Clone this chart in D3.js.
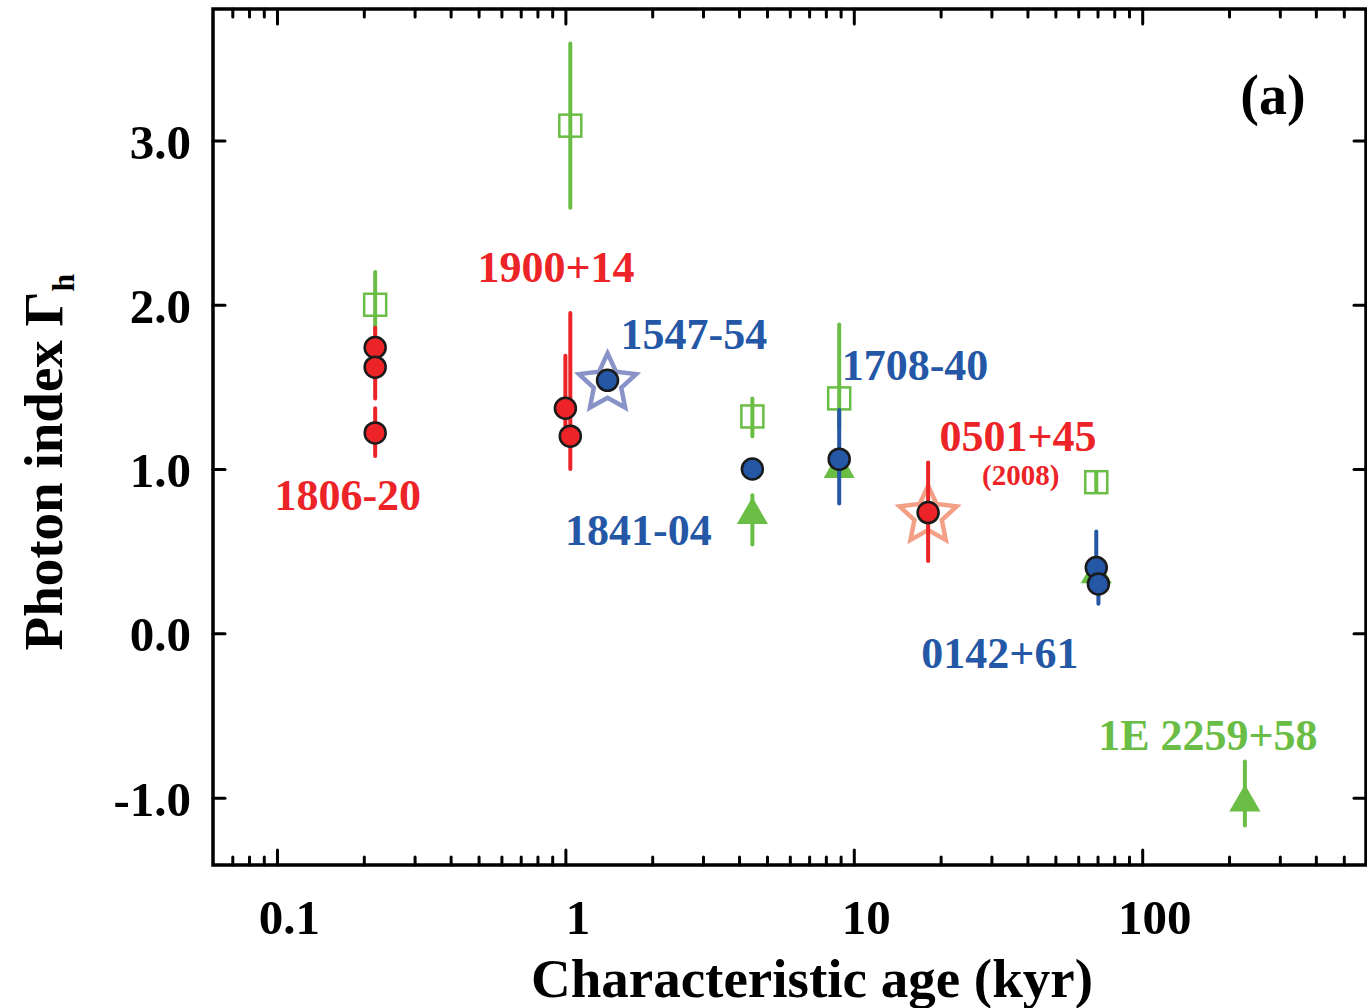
<!DOCTYPE html>
<html>
<head>
<meta charset="utf-8">
<script src="https://cdn.jsdelivr.net/npm/d3@7"></script>
<style>
  body { margin: 0; background: #fff; }
  text { font-family: "Liberation Serif", "DejaVu Serif", serif; font-weight: bold; }
</style>
</head>
<body>
<div id="chart"></div>
<script>
// photon index vs characteristic age

const redAge   = [0.219, 0.219, 0.219, 1.0, 1.04, 18.1];
const redGamma = [1.74, 1.62, 1.22, 1.37, 1.20, 0.735];
const redLo    = [1.62, 1.43, 1.08, 1.15, 1.00, 0.44];
const redHi    = [1.86, 1.74, 1.37, 1.69, 1.95, 1.04];

const blueAge   = [1.40, 4.45, 8.9, 69.3, 70.5];
const blueGamma = [1.54, 1.00, 1.06, 0.40, 0.30];
const blueLo    = [null, null, 0.79, 0.30, 0.18];
const blueHi    = [null, null, 1.36, 0.62, 0.40];

const sqAge   = [0.219, 1.04, 4.45, 8.9, 69.3];
const sqGamma = [2.00, 3.09, 1.32, 1.43, 0.92];
const sqLo    = [1.85, 2.59, 1.20, 1.25, 0.86];
const sqHi    = [2.20, 3.59, 1.43, 1.88, 0.98];

const triAge   = [4.45, 8.9, 69.3, 227];
const triGamma = [0.72, 1.00, 0.36, -1.03];
const triLo    = [0.54, null, null, -1.17];
const triHi    = [0.84, null, null, -0.78];

const starAge   = [1.40, 18.1];
const starGamma = [1.54, 0.735];

const xMajor = [0.1, 1, 10, 100];
const xMajorLabels = ["0.1", "1", "10", "100"];
const yMajor = [-1, 0, 1, 2, 3];
const yMajorLabels = ["-1.0", "0.0", "1.0", "2.0", "3.0"];

const labels = [
  { t: "1806-20", age: 0.176, g: 0.846, c: "red", s: 44 },
  { t: "1900+14", age: 0.928, g: 2.23, c: "red", s: 44 },
  { t: "1547-54", age: 2.79, g: 1.826, c: "blue", s: 44 },
  { t: "1708-40", age: 16.3, g: 1.637, c: "blue", s: 44 },
  { t: "0501+45", age: 37.1, g: 1.205, c: "red", s: 44 },
  { t: "(2008)", age: 37.9, g: 0.962, c: "red", s: 29 },
  { t: "1841-04", age: 1.79, g: 0.633, c: "blue", s: 44 },
  { t: "0142+61", age: 32.1, g: -0.116, c: "blue", s: 44 },
  { t: "1E 2259+58", age: 169, g: -0.615, c: "green", s: 44 }
];

const col = { red: "#ec2327", blue: "#2457a5", green: "#6abd45" };

const W = 1367, H = 1008;
const L = 213, R = 1366, T = 9, B = 865;

const x = d3.scaleLog().domain([0.06, 597]).range([L, R]);
const y = d3.scaleLinear().domain([-1.41, 3.80]).range([B, T]);

const svg = d3.select("#chart").append("svg")
  .attr("width", W).attr("height", H);

// minor x ticks
let xMinor = [];
for (let d = 0.01; d < 1000; d *= 10) {
  for (let k = 2; k <= 9; k++) {
    const v = d * k;
    if (v > 0.06 && v < 597) xMinor.push(v);
  }
}

function styleAxis(g) {
  g.select(".domain").remove();
  g.selectAll(".tick line").attr("stroke", "#000").attr("stroke-width", 3).attr("stroke-linecap", "round");
}

// bottom axis
svg.append("g").attr("transform", `translate(0,${B})`)
  .call(d3.axisBottom(x).tickValues(xMinor).tickSize(-8).tickFormat(""))
  .call(styleAxis);
svg.append("g").attr("transform", `translate(0,${B})`)
  .call(d3.axisBottom(x).tickValues(xMajor).tickSize(-15)
    .tickFormat((d, i) => xMajorLabels[i]))
  .call(styleAxis)
  .selectAll("text")
  .attr("fill", "#000")
  .attr("dx", "12")
  .attr("y", 34)
  .attr("dy", "0.71em")
  .style("font-size", "49px");

// top axis
svg.append("g").attr("transform", `translate(0,${T})`)
  .call(d3.axisTop(x).tickValues(xMinor).tickSize(-8).tickFormat(""))
  .call(styleAxis);
svg.append("g").attr("transform", `translate(0,${T})`)
  .call(d3.axisTop(x).tickValues(xMajor).tickSize(-15).tickFormat(""))
  .call(styleAxis);

// left axis
svg.append("g").attr("transform", `translate(${L},0)`)
  .call(d3.axisLeft(y).tickValues(yMajor).tickSize(-12)
    .tickFormat((d, i) => yMajorLabels[i]))
  .call(styleAxis)
  .selectAll("text")
  .attr("fill", "#000")
  .attr("x", -22)
  .attr("dy", "0.36em")
  .style("font-size", "49px");

// right axis
svg.append("g").attr("transform", `translate(${R},0)`)
  .call(d3.axisRight(y).tickValues(yMajor).tickSize(-12).tickFormat(""))
  .call(styleAxis);

// frame
svg.append("rect")
  .attr("x", L).attr("y", T)
  .attr("width", R - L).attr("height", B - T)
  .attr("fill", "none").attr("stroke", "#000").attr("stroke-width", 3.5);

// axis titles
svg.append("text")
  .attr("x", 812).attr("y", 997)
  .attr("text-anchor", "middle")
  .style("font-size", "55px")
  .text("Characteristic age (kyr)");

const yt = svg.append("text")
  .attr("transform", "translate(62,462) rotate(-90)")
  .attr("text-anchor", "middle")
  .style("font-size", "55px");
yt.append("tspan").text("Photon index  Γ");
yt.append("tspan").attr("dy", 12).style("font-size", "32px").text("h");

svg.append("text")
  .attr("x", 1273).attr("y", 114)
  .attr("text-anchor", "middle")
  .style("font-size", "56px")
  .text("(a)");

// stars (fatter than d3.symbolStar)
const starType = {
  draw(ctx, size) {
    const ro = Math.sqrt(size) / 2, ri = ro * 0.48;
    for (let k = 0; k < 10; k++) {
      const r = k % 2 ? ri : ro;
      const a = -Math.PI / 2 + k * Math.PI / 5;
      if (k === 0) ctx.moveTo(r * Math.cos(a), r * Math.sin(a));
      else ctx.lineTo(r * Math.cos(a), r * Math.sin(a));
    }
    ctx.closePath();
  }
};
const star = d3.symbol().type(starType).size(3600);
const starCol = ["#8a93c8", "#f3a087"];
svg.selectAll(".star").data(starAge).enter().append("path")
  .attr("d", star)
  .attr("transform", (d, i) => `translate(${x(d)},${y(starGamma[i]) + 3})`)
  .attr("fill", "none")
  .attr("stroke", (d, i) => starCol[i])
  .attr("stroke-width", 4.5)
  .attr("stroke-linejoin", "miter");

function errBars(ages, lo, hi, color) {
  svg.append("g").selectAll("line")
    .data(ages.map((a, i) => ({ a, lo: lo[i], hi: hi[i] })).filter(d => d.lo !== null))
    .enter().append("line")
    .attr("x1", d => x(d.a)).attr("x2", d => x(d.a))
    .attr("y1", d => y(d.lo)).attr("y2", d => y(d.hi))
    .attr("stroke", color).attr("stroke-width", 4).attr("stroke-linecap", "round");
}

// green open squares
errBars(sqAge, sqLo, sqHi, col.green);
svg.append("g").selectAll("rect")
  .data(sqAge).enter().append("rect")
  .attr("x", d => x(d) - 11)
  .attr("y", (d, i) => y(sqGamma[i]) - 11)
  .attr("width", 22).attr("height", 22)
  .attr("fill", "none").attr("stroke", col.green).attr("stroke-width", 2.5);

// green triangles
errBars(triAge, triLo, triHi, col.green);
const tri = d3.symbol().type(d3.symbolTriangle).size(420);
svg.append("g").selectAll("path")
  .data(triAge).enter().append("path")
  .attr("d", tri)
  .attr("transform", (d, i) => `translate(${x(d)},${y(triGamma[i])})`)
  .attr("fill", col.green);

// blue circles
errBars(blueAge, blueLo, blueHi, col.blue);
svg.append("g").selectAll("circle")
  .data(blueAge).enter().append("circle")
  .attr("cx", d => x(d)).attr("cy", (d, i) => y(blueGamma[i]))
  .attr("r", 10.5)
  .attr("fill", col.blue).attr("stroke", "#1a1a1a").attr("stroke-width", 2.5);

// red circles
errBars(redAge, redLo, redHi, col.red);
svg.append("g").selectAll("circle")
  .data(redAge).enter().append("circle")
  .attr("cx", d => x(d)).attr("cy", (d, i) => y(redGamma[i]))
  .attr("r", 10.5)
  .attr("fill", col.red).attr("stroke", "#1a1a1a").attr("stroke-width", 2.5);

// source labels
svg.append("g").selectAll("text")
  .data(labels).enter().append("text")
  .attr("x", d => x(d.age)).attr("y", d => y(d.g))
  .attr("text-anchor", "middle")
  .attr("dy", "0.35em")
  .attr("fill", d => col[d.c])
  .style("font-size", d => d.s + "px")
  .text(d => d.t);
</script>
</body>
</html>
